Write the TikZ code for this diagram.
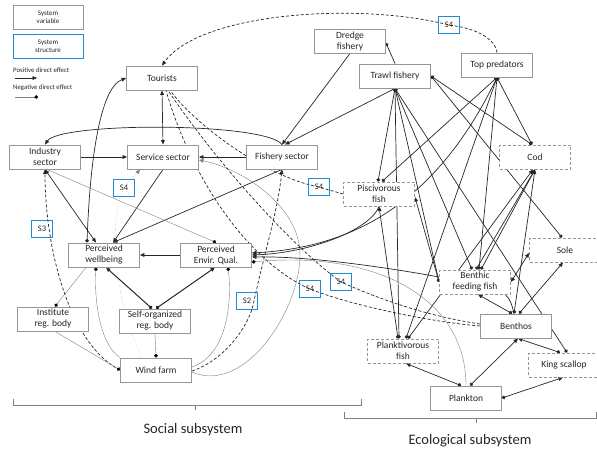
\documentclass[tikz,border=0pt]{standalone}
\usepackage{fontspec}
\setmainfont{Carlito}
\usetikzlibrary{arrows.meta, backgrounds}
\definecolor{boxgray}{RGB}{150,150,150}
\definecolor{sblue}{RGB}{30,140,210}
\tikzset{
  var/.style={draw=boxgray, line width=0.9pt, fill=white, text=black!85, minimum width=71pt, minimum height=24pt, inner sep=1pt, align=center, font=\fontsize{9.5}{11}\selectfont},
  ecovar/.style={var, dash pattern=on 3pt off 2pt},
  sbox/.style={draw=sblue, line width=1pt, minimum width=21pt, minimum height=17pt, inner sep=0pt, text=black!85, font=\fontsize{8.5}{9}\selectfont},
  legbox/.style={draw=boxgray, line width=0.9pt, minimum width=70pt, minimum height=24pt, inner sep=0pt, align=center, text=black!85, font=\fontsize{7}{8}\selectfont},
  legtext/.style={anchor=west, inner sep=0pt, text=black!85, font=\fontsize{6.8}{7}\selectfont},
  link/.style={line width=0.7pt, black!85},
  faint/.style={line width=0.4pt, gray},
  dlink/.style={link, dash pattern=on 3pt off 2pt},
  >={Triangle[length=4.5pt,width=3.8pt]},
  ball/.tip={Circle[length=3.6pt]},
  blackball/.tip={Circle[length=3.6pt,color=black]},
}
\begin{document}
\begin{tikzpicture}[x=1pt, y=-1pt]
  \useasboundingbox (0,0) rectangle (597,450);

  % Legend
  \node[legbox] (legvar) at (48,17.5) {System\\variable};
  \node[legbox, draw=sblue] (legstr) at (48,46) {System\\structure};
  \node[legtext] (legpos) at (13,70) {Positive direct effect};
  \node[legtext] (legneg) at (13,88) {Negative direct effect};
  \coordinate (lp1) at (15,78); \coordinate (lp2) at (37,78);
  \coordinate (ln1) at (15,97); \coordinate (ln2) at (38,97);
  \draw[link,->] (lp1) -- (lp2);
  \draw[faint,-blackball] (ln1) -- (ln2);

  % Social subsystem
  \node[var] (tour) at (162,78) {Tourists};
  \node[var] (ind) at (45,157) {Industry\\sector};
  \node[var] (serv) at (163,157) {Service sector};
  \node[var] (fish) at (282,157) {Fishery sector};
  \node[var] (well) at (104,255) {Perceived\\wellbeing};
  \node[var] (envq) at (216,255) {Perceived\\Envir. Qual.};
  \node[var] (inst) at (53,319) {Institute\\reg. body};
  \node[var] (selfo) at (155,321) {Self-organized\\reg. body};
  \node[var] (wind) at (156,370) {Wind farm};

  % Ecological subsystem
  \node[var] (dredge) at (350,41) {Dredge\\fishery};
  \node[var] (trawl) at (395,76) {Trawl fishery};
  \node[var] (toppred) at (497,65) {Top predators};
  \node[ecovar] (cod) at (535,157) {Cod};
  \node[ecovar] (pisc) at (379,194) {Piscivorous\\fish};
  \node[ecovar] (sole) at (565,250) {Sole};
  \node[ecovar] (bff) at (475,282) {Benthic\\feeding fish};
  \node[var] (benthos) at (516,326) {Benthos};
  \node[ecovar] (plankt) at (403,351) {Planktivorous\\fish};
  \node[ecovar] (kscal) at (564,365) {King scallop};
  \node[var] (plankton) at (466,398) {Plankton};

  % System structures
  \node[sbox] (s4top) at (449,25) {S4};
  \node[sbox] (s4serv) at (124,188) {S4};
  \node[sbox] (s3) at (42,229) {S3};
  \node[sbox] (s4pisc) at (319,187) {S4};
  \node[sbox] (s2) at (247,301) {S2};
  \node[sbox] (s4a) at (310,289) {S4};
  \node[sbox] (s4b) at (341,282) {S4};

  \begin{scope}[on background layer]
    % social links
    \draw[dlink,->] (toppred.north) .. controls (495,38) and (475,28) .. (s4top.center) .. controls (360,2) and (200,12) .. (tour.north);
    \draw[link,<->] (tour.south) -- (serv.north);
    \draw[link,ball->] ([xshift=-17pt]well.north) .. controls (90,160) and (100,88) .. (tour.west);
    \draw[link,->] (fish.north) .. controls (265,122) and (60,122) .. (ind.north);
    \draw[link,->] (ind.east) -- (serv.west);
    \draw[link,->] (fish.west) -- (serv.east);
    \draw[link,<->] (ind.south) -- ([xshift=-8pt]well.north);
    \draw[link,->] (serv.south) -- ([xshift=9pt]well.north);
    \draw[link,->] (fish.south) -- ([xshift=9pt]well.north);
    \draw[link,->] (envq.west) -- (well.east);
    \draw[faint,-blackball] ([xshift=2pt]ind.south) -- (envq.north);
    \draw[faint,dotted,->] ([xshift=-14pt]wind.north) .. controls (110,290) and (110,215) .. (s4serv.center) -- ([xshift=-23pt]serv.south);
    \draw[dlink,->] (wind.west) .. controls (70,345) and (45,250) .. (ind.south);
    \draw[faint,-blackball] ([xshift=-18pt]well.south) -- ([xshift=2pt]inst.north);
    \draw[faint,-blackball] ([xshift=2pt]inst.south) -- (wind.west);
    \draw[link,line width=1pt,ball->] ([xshift=-3pt]selfo.north) -- ([xshift=2pt]well.south);
    \draw[link,line width=1pt,ball->] ([xshift=1pt]selfo.north) -- ([xshift=-1pt]envq.south);
    \draw[faint,-blackball] (selfo.south) -- (wind.north);
    \draw[faint,-blackball] (wind.north west) .. controls (100,345) and (94,300) .. ([xshift=-8pt]well.south);
    \draw[faint,-blackball] ([yshift=3pt]wind.east) .. controls (228,355) and (232,300) .. ([xshift=12pt]envq.south);
    \draw[faint,->] ([yshift=-2pt]wind.east) .. controls (245,395) and (300,310) .. (300,255) .. controls (300,205) and (240,168) .. ([yshift=-3pt]serv.east);
    \draw[dlink,->] ([yshift=-1pt]wind.east) .. controls (225,360) and (250,325) .. ([xshift=7pt]s2.center) .. controls (265,250) and (278,210) .. (fish.south);
    \draw[dlink] (benthos.west) .. controls (430,322) and (350,305) .. (s4a.center) .. controls (255,265) and (195,190) .. ([xshift=4pt]tour.south);
    \draw[dlink] ([yshift=2pt]benthos.west) .. controls (420,315) and (370,295) .. (s4b.center) .. controls (290,245) and (215,160) .. ([xshift=6pt]tour.south);
    \draw[dlink] (pisc.west) -- (s4pisc.center) .. controls (270,178) and (200,130) .. ([xshift=8pt]tour.south);

    % ecological links
    \draw[link,->] (dredge.south) -- (fish.north);
    \draw[link,->] (trawl.south) -- ([xshift=3pt]fish.north);
    \draw[link,-ball] (trawl.north) -- ([yshift=-2pt]dredge.east);
    \draw[link,ball-ball] (trawl.south) -- ([xshift=-1pt]pisc.north);
    \draw[link,ball-ball] (trawl.south) -- ([xshift=-4pt]plankt.north);
    \draw[link,ball-ball] (trawl.south) -- (bff.west);
    \draw[link,ball-ball] (trawl.south) -- ([xshift=-3pt]bff.north);
    \draw[link,ball-ball] (trawl.east) -- ([xshift=-3pt]cod.north);
    \draw[link,ball-ball] (trawl.east) -- ([xshift=-3pt]sole.north);
    \draw[link,ball-ball] (trawl.south) -- ([xshift=3pt]kscal.north);
    \draw[link,ball-ball] (toppred.south) -- ([xshift=-3pt]cod.north);
    \draw[link,ball-ball] (toppred.south) -- ([xshift=3pt]pisc.north);
    \draw[link,ball-ball] (toppred.south) -- ([xshift=4pt]bff.north);
    \draw[link,ball-ball] (toppred.south) -- ([xshift=3pt]plankt.north);
    \draw[link,ball->] (toppred.south) .. controls (430,215) and (340,248) .. ([yshift=2pt]envq.east);
    \draw[link,->] (pisc.south) .. controls (370,230) and (310,253) .. (envq.east);
    \draw[link,->] ([yshift=5pt]bff.west) .. controls (390,268) and (310,256) .. ([yshift=-2pt]envq.east);
    \draw[faint,-blackball] (plankton.north) .. controls (466,300) and (380,250) .. ([yshift=-7pt]envq.east);
    \draw[link,ball->] ([xshift=-5pt]plankt.north) -- (pisc.south);
    \draw[link,ball->] (bff.west) -- ([yshift=-3pt]pisc.east);
    \draw[link,ball->] ([xshift=1pt]bff.north) -- (cod.south);
    \draw[link,ball->] ([xshift=6pt]bff.north) -- (cod.south);
    \draw[link,ball->] ([xshift=-2pt]benthos.north) -- (cod.south);
    \draw[link,ball->] ([xshift=5pt]plankt.north) -- ([xshift=-2pt]cod.south);
    \draw[link,<->] (bff.east) -- ([yshift=-3pt]sole.west);
    \draw[link,ball->] ([xshift=3pt]benthos.north) -- ([xshift=-2pt]sole.south);
    \draw[link,ball->] ([xshift=-4pt]benthos.north) -- ([xshift=3pt]bff.south);
    \draw[link] ([xshift=-6pt]bff.south east) .. controls (510,298) and (512,305) .. ([xshift=-2pt]benthos.north);
    \draw[link,ball->] ([xshift=4pt]plankton.north) -- ([xshift=2pt]benthos.south);
    \draw[link,ball->] ([xshift=-4pt]kscal.north) -- ([xshift=2pt]benthos.south);
    \draw[link,ball->] ([xshift=-5pt]plankton.north) -- ([xshift=3pt]plankt.south);
    \draw[link,ball->] (plankton.east) -- ([xshift=-1pt]kscal.south);
  \end{scope}

  % Subsystem brackets
  \draw[gray] (13,399) -- (13,405) -- (361,405) -- (361,399);
  \draw[gray] (195,405) -- (195,410);
  \draw[gray] (344,412) -- (344,418) -- (596,418) -- (596,412);
  \draw[gray] (476,418) -- (476,423);
  \node[text=black!85, font=\fontsize{14.5}{16}\selectfont] (soclab) at (193,430) {Social subsystem};
  \node[text=black!85, font=\fontsize{14.5}{16}\selectfont] (ecolab) at (470,441) {Ecological subsystem};
\end{tikzpicture}
\end{document}
